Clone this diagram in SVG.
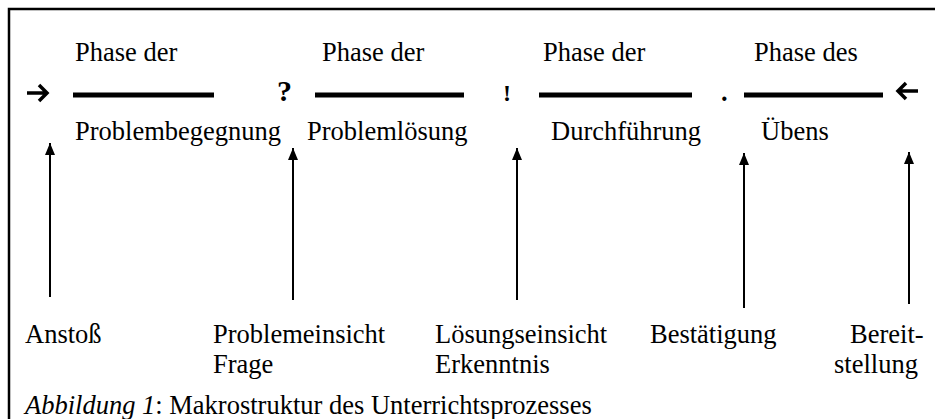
<svg xmlns="http://www.w3.org/2000/svg" width="935" height="419" viewBox="0 0 935 419" font-family="'Liberation Serif', 'DejaVu Serif', serif">
<style>
text{font-family:'Liberation Serif','DejaVu Serif',serif;font-size:26.5px;fill:#000}
.b{font-weight:bold}
.bar{stroke:#000;stroke-width:5;fill:none}
.conn{stroke:#000;stroke-width:2;fill:none}
.harr{stroke:#000;stroke-width:3.5;fill:none}
</style>
<defs>
<marker id="ah" viewBox="0 0 12 10" refX="12" refY="5" markerWidth="12" markerHeight="10" markerUnits="userSpaceOnUse" orient="auto">
<path d="M0,0 L12,5 L0,10 Z" fill="#000"/>
</marker>
</defs>
<rect width="935" height="419" fill="#fff"/>
<path d="M9,419 V9 H935" stroke="#000" stroke-width="2.5" fill="none"/>

<g id="entry-arrow"><path class="harr" d="M27,93 H47 M39,85 L47,93 L39,101"/></g>
<g id="phase1">
<text x="75" y="61">Phase der</text>
<line class="bar" x1="73" y1="95" x2="214" y2="95"/>
<text x="75" y="140">Problembegegnung</text>
</g>
<g id="mark-q"><text class="b" x="277" y="101" style="font-size:30px">?</text></g>
<g id="phase2">
<text x="322" y="61">Phase der</text>
<line class="bar" x1="315" y1="95" x2="464" y2="95"/>
<text x="307" y="140">Problemlösung</text>
</g>
<g id="mark-excl"><text class="b" x="503" y="101" style="font-size:24px">!</text></g>
<g id="phase3">
<text x="543" y="61">Phase der</text>
<line class="bar" x1="539" y1="95" x2="692" y2="95"/>
<text x="551" y="140">Durchführung</text>
</g>
<g id="mark-dot"><text class="b" x="721" y="101">.</text></g>
<g id="phase4">
<text x="754" y="61">Phase des</text>
<line class="bar" x1="744" y1="95" x2="883" y2="95"/>
<text x="761" y="140">Übens</text>
</g>
<g id="exit-arrow"><path class="harr" d="M918,91 H898 M906,83 L898,91 L906,99"/></g>

<g id="connectors">
<line class="conn" x1="50" y1="297" x2="50" y2="143" marker-end="url(#ah)"/>
<line class="conn" x1="293" y1="300" x2="293" y2="148" marker-end="url(#ah)"/>
<line class="conn" x1="517" y1="300" x2="517" y2="148" marker-end="url(#ah)"/>
<line class="conn" x1="744" y1="308" x2="744" y2="153" marker-end="url(#ah)"/>
<line class="conn" x1="909" y1="304" x2="909" y2="152" marker-end="url(#ah)"/>
</g>

<g id="label-anstoss"><text x="25" y="343">Anstoß</text></g>
<g id="label-problemeinsicht"><text x="213" y="343">Problemeinsicht</text><text x="213" y="373">Frage</text></g>
<g id="label-loesungseinsicht"><text x="435" y="343">Lösungseinsicht</text><text x="435" y="373">Erkenntnis</text></g>
<g id="label-bestaetigung"><text x="650" y="343">Bestätigung</text></g>
<g id="label-bereitstellung"><text x="850" y="343">Bereit-</text><text x="834" y="373">stellung</text></g>

<g id="caption"><text x="25" y="414"><tspan font-style="italic">Abbildung 1</tspan>: Makrostruktur des Unterrichtsprozesses</text></g>
</svg>
